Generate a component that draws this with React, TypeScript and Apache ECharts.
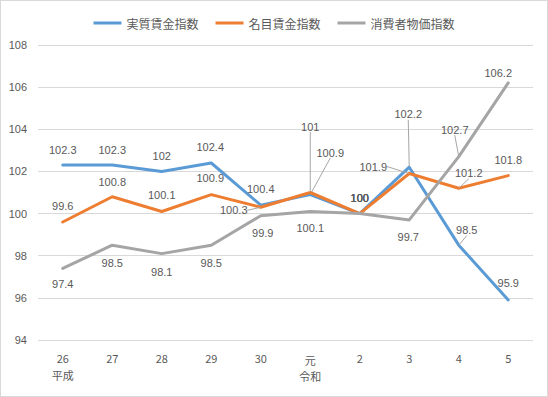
import React, { useEffect, useRef } from 'react';
import * as echarts from 'echarts';

const categories = ['26\n平成', '27', '28', '29', '30', '元\n令和', '2', '3', '4', '5'];
const seriesNames = ['実質賃金指数', '名目賃金指数', '消費者物価指数'];
const realWage = [102.3, 102.3, 102, 102.4, 100.4, 100.9, 100, 102.2, 98.5, 95.9];
const nominalWage = [99.6, 100.8, 100.1, 100.9, 100.3, 101, 100, 101.9, 101.2, 101.8];
const cpi = [97.4, 98.5, 98.1, 98.5, 99.9, 100.1, 100, 99.7, 102.7, 106.2];
const yMin = 94;
const yMax = 108;
const yStep = 2;

// label offsets (px from the point) and whether a leader line is drawn
const realOffsets = [[0, -15], [0, -15], [0, -15.6], [-1, -16], [0, -16], [20, -42], [0, -16], [-1, -53], [8, -15], [0, -17]];
const realLeader = [false, false, false, false, false, true, false, true, true, false];
const nominalOffsets = [[0, -16], [0, -15], [0, -16], [-1, -16.5], [-27, 3], [0, -66], [0, -16], [-36, -7], [10, -15], [0, -16]];
const nominalLeader = [false, false, false, false, true, true, false, true, true, false];
const cpiOffsets = [[0, 16], [0, 18], [0, 18], [0, 18], [2, 17.5], [0, 17], [0, -16], [-1, 17], [-4, -27], [-10, -10]];
const cpiLeader = [false, false, false, false, false, false, false, false, true, false];

const colors = ['#5B9BD5', '#ED7D31', '#A5A5A5'];
const textColor = '#595959';
const numFont = '"Liberation Sans", Arial, sans-serif';
const cjkFont = '"Noto Sans CJK JP", sans-serif';

function makeSeries(name: string, values: number[], color: string, offsets: number[][], leader: boolean[], z: number) {
  return {
    type: 'line',
    name,
    z,
    data: values.map((v, i) => ({ value: v, labelLine: { show: leader[i] } })),
    symbol: 'circle',
    symbolSize: 1,
    showSymbol: true,
    itemStyle: { color },
    lineStyle: { color, width: 3, cap: 'round', join: 'round' },
    emphasis: { disabled: true },
    label: {
      show: true,
      position: 'inside',
      color: textColor,
      fontSize: 11,
      fontFamily: numFont,
    },
    labelLine: { show: true, lineStyle: { color: '#A6A6A6', width: 1 } },
    labelLayout: (p: any) => ({ dx: offsets[p.dataIndex][0], dy: offsets[p.dataIndex][1] }),
  };
}

export default function App() {
  const ref = useRef<HTMLDivElement>(null);
  useEffect(() => {
    document.body.style.margin = '0';
    if (!ref.current) return;
    const chart = echarts.init(ref.current, null, { renderer: 'svg' });
    chart.setOption({
      animation: false,
      backgroundColor: '#fff',
      legend: {
        top: 12,
        left: 'center',
        icon: 'rect',
        itemWidth: 28,
        itemHeight: 3,
        itemGap: 17,
        textStyle: { color: textColor, fontSize: 12, fontFamily: cjkFont },
        data: seriesNames,
      },
      grid: { left: 38, right: 15, top: 45, bottom: 57, containLabel: false },
      xAxis: {
        type: 'category',
        data: categories,
        boundaryGap: true,
        axisLine: { show: false },
        axisTick: { show: false },
        axisLabel: {
          margin: 9,
          color: textColor,
          fontSize: 11,
          fontFamily: cjkFont,
          lineHeight: 17,
          interval: 0,
          formatter: (v: string) => {
            const parts = v.split('\n');
            if (parts[0] === '元') return '{a|' + parts[0] + '}\n{b|' + parts[1] + '}';
            return v;
          },
          rich: {
            a: { color: textColor, fontSize: 11, fontFamily: cjkFont, lineHeight: 17, padding: [5, 0, 0, 0] },
            b: { color: textColor, fontSize: 11, fontFamily: cjkFont, lineHeight: 20 },
          },
        },
      },
      yAxis: {
        type: 'value',
        min: yMin,
        max: yMax,
        interval: yStep,
        axisLine: { show: false },
        axisTick: { show: false },
        axisLabel: { color: textColor, fontSize: 11, fontFamily: numFont, margin: 11 },
        splitLine: { lineStyle: { color: '#D9D9D9', width: 1 } },
      },
      series: [
        makeSeries(seriesNames[0], realWage, colors[0], realOffsets, realLeader, 2),
        makeSeries(seriesNames[1], nominalWage, colors[1], nominalOffsets, nominalLeader, 3),
        makeSeries(seriesNames[2], cpi, colors[2], cpiOffsets, cpiLeader, 4),
      ],
    });
    return () => chart.dispose();
  }, []);
  return (
    <div style={{ position: 'relative', width: 548, height: 397 }}>
      <div ref={ref} style={{ width: 548, height: 397 }} />
      <div
        style={{
          position: 'absolute',
          left: 0,
          top: 0,
          width: 548,
          height: 397,
          boxSizing: 'border-box',
          border: '1px solid #D9D9D9',
          pointerEvents: 'none',
        }}
      />
    </div>
  );
}
